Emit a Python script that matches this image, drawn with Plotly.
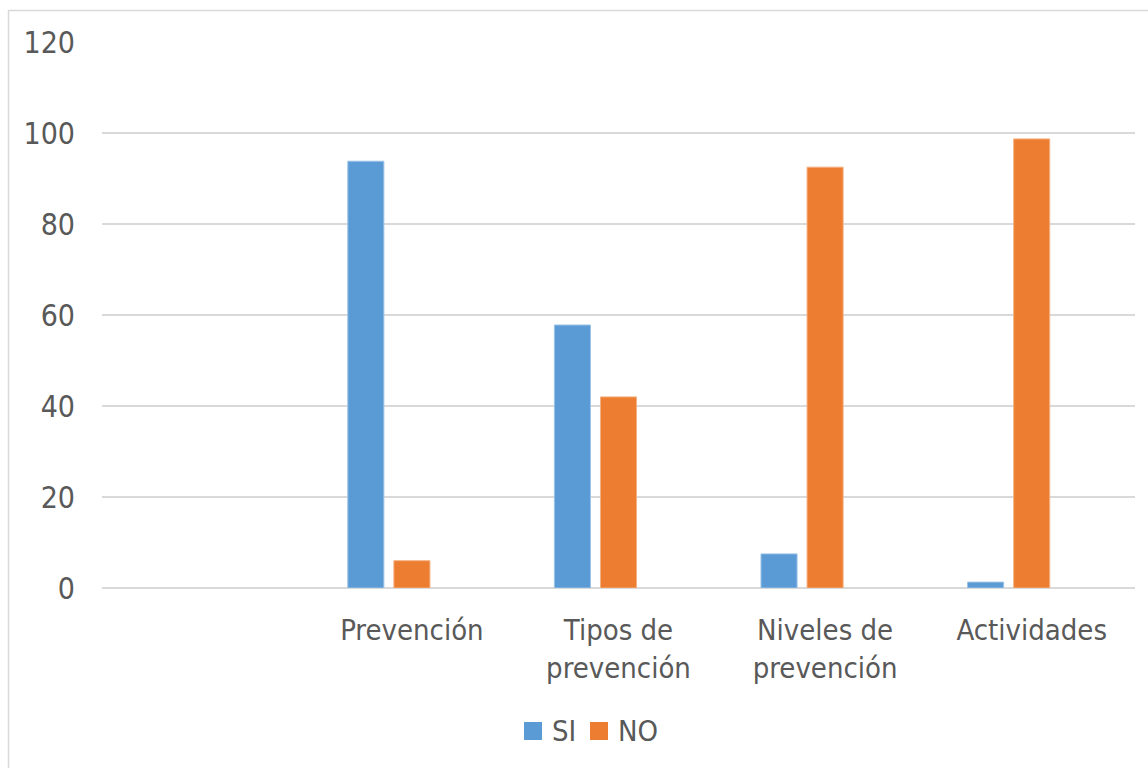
import plotly.graph_objects as go

# Survey results (%) per topic
categories = [" ", "Prevención", "Tipos de<br>prevención", "Niveles de<br>prevención", "Actividades"]
si_values = [None, 93.8, 57.8, 7.5, 1.3]
no_values = [None, 6.0, 42.0, 92.5, 98.7]
empty_values = [None, None, None, None, None]
y_ticks = [0, 20, 40, 60, 80, 100, 120]
series_names = ["SI", "NO"]

FONT = "Liberation Sans Narrow, DejaVu Sans Condensed, Arial Narrow, sans-serif"
TEXT = "#595959"
BLUE, ORANGE = "#5B9BD5", "#ED7D31"

fig = go.Figure()
fig.add_trace(go.Bar(name=series_names[0], x=categories, y=si_values,
                     marker=dict(color=BLUE, line=dict(color="#9DC3E6", width=1))))
fig.add_trace(go.Bar(name=series_names[1], x=categories, y=no_values,
                     marker=dict(color=ORANGE, line=dict(color="#F4B183", width=1))))
# third (empty) series keeps its slot in each group
fig.add_trace(go.Bar(name=" ", x=categories, y=empty_values,
                     marker=dict(color="#A5A5A5")))

W, H = 1148, 768
ml, mr, mt, mb = 102, 13, 42, 180
pw, ph = W - ml - mr, H - mt - mb

def px_x(p):
    return (p - ml) / pw

def px_y(p):
    return (H - mb - p) / ph

shapes = [dict(type="rect", xref="paper", yref="paper",
               x0=px_x(8.5), x1=px_x(1170), y0=px_y(790), y1=px_y(10.5),
               line=dict(color="#D9D9D9", width=1.5), fillcolor="rgba(0,0,0,0)", layer="below")]
annotations = []

# legend: square swatch + label for each series
legend_left = [524, 590]
for name, color, left in zip(series_names, (BLUE, ORANGE), legend_left):
    shapes.append(dict(type="rect", xref="paper", yref="paper",
                       x0=px_x(left), x1=px_x(left + 18), y0=px_y(740), y1=px_y(722),
                       line=dict(width=0), fillcolor=color))
    annotations.append(dict(text=name, xref="paper", yref="paper",
                            x=px_x(left + 26), y=px_y(731), xanchor="left", yanchor="middle",
                            showarrow=False, font=dict(size=29, color=TEXT)))

fig.update_layout(
    width=W, height=H,
    margin=dict(l=ml, r=mr, t=mt, b=mb),
    paper_bgcolor="white", plot_bgcolor="white",
    barmode="group", bargap=0.331, bargroupgap=0.217,
    font=dict(family=FONT, color=TEXT, size=29),
    showlegend=False,
    shapes=shapes, annotations=annotations,
)
fig.update_xaxes(type="category", categoryorder="array", categoryarray=categories,
                 showgrid=False, zeroline=False, showline=False, ticks="",
                 tickfont=dict(size=29, color=TEXT), ticklabelstandoff=22, fixedrange=True)
fig.update_yaxes(range=[0, 120], tickvals=y_ticks, showgrid=True, gridcolor="#D9D9D9", gridwidth=1.5,
                 zeroline=True, zerolinecolor="#D9D9D9", zerolinewidth=1.5, showline=False, ticks="",
                 tickfont=dict(size=30, color=TEXT), ticklabelstandoff=26, fixedrange=True)

fig.write_html("out.html")
